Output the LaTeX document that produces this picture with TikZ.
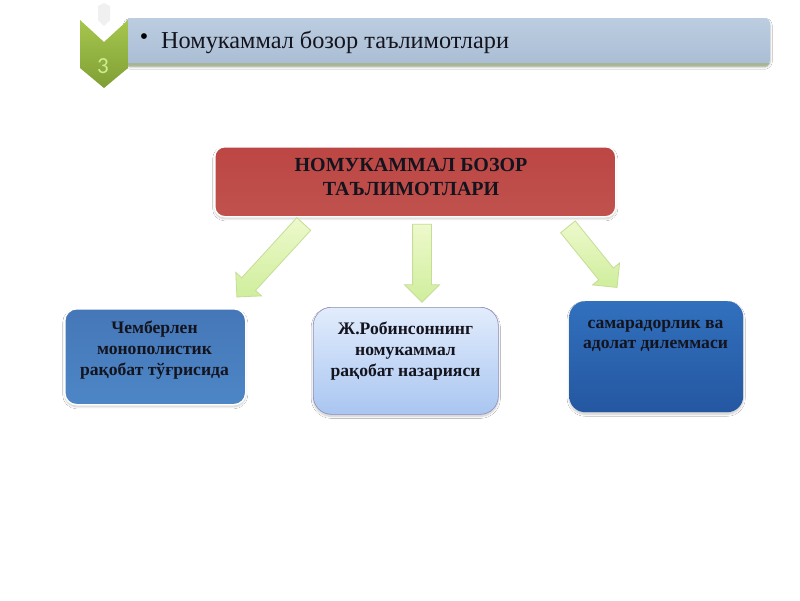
\documentclass[tikz,border=0pt]{standalone}
\usepackage{fontspec}
\setmainfont{Liberation Serif}
\setsansfont{Carlito}
\usetikzlibrary{shapes.arrows,shadows.blur}
\definecolor{txt}{HTML}{14141E}
\definecolor{barT}{HTML}{BCCDE0}
\definecolor{barB}{HTML}{A9BDD4}
\definecolor{chT}{HTML}{A6C64E}
\definecolor{chB}{HTML}{7F9F35}
\definecolor{redT}{HTML}{BC4643}
\definecolor{redB}{HTML}{C0524E}
\definecolor{oneT}{HTML}{4577B8}
\definecolor{oneB}{HTML}{4D86C6}
\definecolor{twoT}{HTML}{E2ECFC}
\definecolor{twoB}{HTML}{A9C6F1}
\definecolor{thrT}{HTML}{3170BD}
\definecolor{thrB}{HTML}{2557A1}
\definecolor{arT}{HTML}{EEF9CC}
\definecolor{arB}{HTML}{CFEE9C}
\definecolor{arD}{HTML}{C5DE96}
\tikzset{
 box/.style={rounded corners=#1,inner sep=0pt,anchor=north west},
 label/.style={anchor=north,inner sep=0pt,align=center,text=txt,font=\fontsize{17.6}{21}\selectfont\bfseries},
 blockarrow/.style={single arrow,draw=arD,line width=.8pt,top color=arT,bottom color=arB,single arrow head extend=8pt,inner xsep=0pt,inner ysep=9pt,minimum width=34pt,single arrow tip angle=90},
 softshadow/.style={blur shadow={shadow blur steps=10,shadow xshift=0pt,shadow yshift=-2pt,shadow blur radius=2pt,shadow opacity=22}}
}
\begin{document}
\begin{tikzpicture}[x=1pt,y=-1pt]
\useasboundingbox[fill=white] (0,0) rectangle (800,600);
% header
\node[box=5pt,minimum width=645pt,minimum height=47pt,top color=barT,bottom color=barB,softshadow] (bar) at (125,18) {};
\fill[chB!60!gray!70!white,opacity=.8] (128,63) -- (770,63) -- (767,66.5) -- (128,66.5) -- cycle;
\node[anchor=west,inner sep=0pt,font=\fontsize{24.3}{26}\selectfont,text=txt] (hdr) at (161,42.5) {Номукаммал бозор таълимотлари};
\node[inner sep=0pt,font=\fontsize{24}{26}\selectfont,text=black] (bul) at (144,39) {•};
% chevron
\fill[black!6] (98,6) -- (104,3) -- (110,6) -- (110,20) -- (104,26) -- (98,20) -- cycle;
\shade[top color=chT,bottom color=chB] (80,20) -- (104,42) -- (128,20) -- (128,68) -- (104,88) -- (80,68) -- cycle;
\node[inner sep=0pt,font=\sffamily\fontsize{23}{24}\selectfont,text=yellow!60!green!45!white] (num) at (103,66) {3};
% main box
\node[box=10pt,minimum width=401pt,minimum height=70pt,top color=redT,bottom color=redB,draw=white,line width=1.5pt,softshadow] (main) at (214,146) {};
\node[label,font=\fontsize{20}{24.5}\selectfont\bfseries] (mt) at (411,158) {НОМУКАММАЛ БОЗОР\\ТАЪЛИМОТЛАРИ};
% lower boxes
\node[box=12pt,minimum width=181pt,minimum height=96pt,top color=oneT,bottom color=oneB,draw=white,line width=1.5pt,softshadow] (b1) at (64,308) {};
\node[label] (t1) at (154.5,321) {Чемберлен\\монополистик\\рақобат тўғрисида};
\node[box=18pt,minimum width=185pt,minimum height=107pt,top color=twoT,bottom color=twoB,draw=blue!25!gray!70!white,line width=.6pt,softshadow] (b2) at (313,307) {};
\node[label] (t2) at (405.5,322) {Ж.Робинсоннинг\\номукаммал\\рақобат назарияси};
\node[box=16pt,minimum width=174pt,minimum height=111pt,top color=thrT,bottom color=thrB,softshadow] (b3) at (569,301) {};
\node[label,font=\fontsize{17.6}{20}\selectfont\bfseries] (t3) at (655.5,320) {самарадорлик ва\\адолат дилеммаси};
% arrows
\node[blockarrow,minimum height=99pt,rotate=-132.5] (a1) at (273.5,257) {};
\node[blockarrow,minimum height=78pt,rotate=-90] (a2) at (422,258.5) {};
\node[blockarrow,minimum height=78pt,rotate=-51] (a3) at (589.5,253.5) {};
\end{tikzpicture}
\end{document}
